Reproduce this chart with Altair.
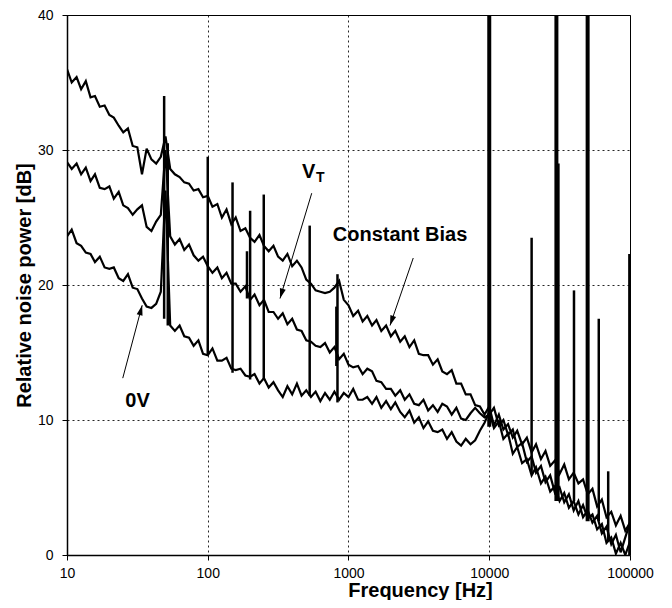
import altair as alt
import pandas as pd

FREQ = [10, 10.8, 11.7, 12.6, 13.6, 14.7, 15.8, 17.1, 18.5, 20.0, 21.5, 23.3, 25.1, 27.1, 29.3,
        31.6, 34.1, 36.8, 39.8, 43.0, 46.4, 50.1, 54.1, 58.4, 63.1, 68.1, 73.6, 79.4, 85.8, 92.6,
        100, 108, 117, 126, 136, 147, 158, 171, 185, 200, 215, 233, 251, 271, 293,
        316, 341, 368, 398, 430, 464, 501, 541, 584, 631, 681, 736, 794, 858, 926,
        1000, 1080, 1170, 1260, 1360, 1470, 1580, 1710, 1850, 2000, 2150, 2330, 2510, 2710, 2930,
        3160, 3410, 3680, 3980, 4300, 4640, 5010, 5410, 5840, 6310, 6810, 7360, 7940, 8580, 9260,
        10000, 10800, 11700, 12600, 13600, 14700, 15800, 17100, 18500, 20000, 21500, 23300, 25100, 27100, 29300,
        31600, 34100, 36800, 39800, 43000, 46400, 50100, 54100, 58400, 63100, 68100, 73600, 79400, 85800, 92600,
        100000]

CONSTANT_BIAS = [36.0, 35.0, 35.4, 34.5, 35.1, 33.9, 34.0, 33.2, 33.3, 32.6, 32.4, 31.8, 31.3, 31.6, 30.3,
                 30.2, 28.2, 30.1, 29.3, 29.0, 29.5, 31.0, 28.6, 28.2, 28.0, 27.6, 27.5, 27.0, 27.1, 26.5,
                 26.6, 25.8, 26.0, 25.0, 25.6, 24.5, 25.0, 24.0, 24.2, 23.5, 23.2, 23.7, 22.9, 22.5, 22.9,
                 22.1, 21.8, 22.3, 21.4, 21.8, 21.3, 20.4, 20.1, 19.6, 19.5, 19.4, 19.5, 19.8, 20.3, 18.9,
                 18.5, 17.7, 18.1, 17.3, 17.7, 17.0, 17.4, 16.6, 17.0, 16.2, 16.6, 15.8, 16.2, 15.4, 15.9,
                 14.9, 14.8, 14.8, 14.1, 14.5, 13.6, 13.4, 13.7, 12.7, 12.7, 11.9, 11.9, 11.1, 11.0, 10.4,
                 11.0, 9.6, 10.4, 9.3, 9.7, 8.7, 9.2, 8.2, 8.7, 7.6, 8.2, 7.1, 7.7, 6.6, 7.0,
                 6.0, 6.7, 5.6, 6.1, 5.3, 5.6, 4.5, 4.9, 3.6, 4.1, 2.8, 3.2, 2.2, 2.9, 1.8,
                 2.4]

VT = [29.1, 28.6, 29.0, 28.2, 28.7, 27.7, 28.2, 27.2, 27.1, 27.3, 26.4, 26.9, 25.9, 25.7, 25.2,
      25.6, 25.9, 24.3, 24.0, 24.7, 25.2, 30.0, 23.6, 23.0, 23.4, 22.6, 23.0, 22.2, 21.8, 22.1,
      21.4, 20.9, 21.3, 20.5, 20.9, 20.1, 20.1, 19.5, 19.9, 18.9, 19.3, 18.5, 18.9, 18.0, 18.0,
      17.5, 17.9, 17.1, 17.5, 16.7, 16.6, 15.9, 15.8, 15.5, 15.4, 15.7, 15.0, 15.4, 14.5, 14.9,
      14.1, 13.9, 14.0, 13.4, 13.8, 13.6, 12.9, 12.8, 12.3, 12.3, 11.8, 12.2, 11.5, 11.9, 11.2,
      11.1, 11.5, 10.7, 11.1, 10.6, 11.2, 11.0, 10.4, 10.9, 10.1, 10.0, 10.5, 10.9, 10.5, 10.2,
      10.4, 10.9, 9.6, 10.0, 8.9, 9.3, 8.0, 8.3, 6.9, 7.3, 6.1, 6.6, 5.4, 5.9, 4.6,
      5.0, 3.9, 4.5, 3.3, 4.0, 2.8, 3.3, 2.4, 2.9, 1.6, 2.1, 0.8, 1.5, 0.2, 1.3,
      2.4]

ZERO_V = [23.6, 24.1, 23.1, 22.9, 22.4, 22.3, 21.7, 22.1, 21.3, 21.2, 21.3, 20.5, 20.3, 20.8, 19.8,
          19.7, 19.0, 18.4, 18.3, 18.6, 19.5, 27.0, 17.0, 16.6, 17.0, 16.2, 16.1, 15.5, 15.9, 14.9,
          14.8, 15.3, 14.4, 14.4, 14.6, 13.8, 13.7, 13.8, 13.3, 13.2, 13.4, 12.7, 13.1, 12.4, 12.8,
          12.2, 11.7, 12.5, 11.9, 12.7, 11.8, 12.2, 11.7, 12.1, 11.4, 12.0, 11.5, 12.1, 11.5, 12.0,
          11.7, 12.3, 11.5, 11.5, 11.7, 11.2, 11.7, 10.9, 11.4, 10.8, 11.3, 10.6, 10.2, 10.7, 9.8,
          10.2, 9.4, 9.9, 9.2, 9.1, 9.3, 8.6, 9.1, 8.4, 8.1, 8.6, 8.2, 8.5, 9.2, 9.8,
          10.6, 9.4, 9.9, 8.6, 9.0, 7.5, 8.0, 6.8, 7.1, 5.9, 6.5, 5.3, 5.8, 4.7, 5.1,
          4.0, 4.6, 3.5, 4.0, 3.0, 3.7, 2.7, 3.0, 1.9, 2.3, 0.9, 1.3, 0.1, 0.9, 0.0,
          1.0]

SERIES = ["Constant Bias", "VT", "0V"]

# narrow interference spikes (frequency, foot, peak)
SPIKE_FREQ = [49, 52, 100, 150, 190, 200, 250, 530, 820, 835, 20000, 31000, 40000, 60000, 70000, 99000]
SPIKE_LOW = [17.5, 17.0, 14.8, 13.5, 19.0, 13.0, 13.0, 11.8, 14.0, 11.3, 6.0, 4.0, 4.0, 2.5, 1.0, 0.0]
SPIKE_HIGH = [34.0, 30.5, 29.5, 27.6, 22.5, 25.5, 26.7, 24.4, 18.4, 20.8, 23.5, 29.0, 19.6, 17.5, 6.2, 22.3]

# strong spikes running off the top
BIG_SPIKE_FREQ = [10000, 30000, 50000]
BIG_SPIKE_LOW = [9.5, 4.0, 2.5]
BIG_SPIKE_HIGH = [40, 40, 40]

# annotations (data coordinates)
LABEL_TEXT = ["Constant Bias", "0V"]
LABEL_FREQ = [2323, 31.7]
LABEL_POWER = [23.25, 11.0]

ARROW_FROM_FREQ = [548, 2884, 24.9]
ARROW_FROM_POWER = [26.8, 22.0, 13.1]
ARROW_TO_FREQ = [326, 1972, 34.2]
ARROW_TO_POWER = [19.0, 17.0, 18.5]
ARROW_ANGLE = [196.6, 198.8, 14.8]

rows = []
for name, vals in zip(SERIES, [CONSTANT_BIAS, VT, ZERO_V]):
    for f, v in zip(FREQ, vals):
        rows.append({"freq": f, "power": v, "series": name})
df = pd.DataFrame(rows)

spikes = pd.DataFrame({"freq": SPIKE_FREQ, "power": SPIKE_LOW, "power2": SPIKE_HIGH})
big = pd.DataFrame({"freq": BIG_SPIKE_FREQ, "power": BIG_SPIKE_LOW, "power2": BIG_SPIKE_HIGH})
labels = pd.DataFrame({"freq": LABEL_FREQ, "power": LABEL_POWER, "text": LABEL_TEXT})
arrows = pd.DataFrame({"freq": ARROW_FROM_FREQ, "power": ARROW_FROM_POWER,
                       "freq2": ARROW_TO_FREQ, "power2": ARROW_TO_POWER, "ang": ARROW_ANGLE})
heads = pd.DataFrame({"freq": ARROW_TO_FREQ, "power": ARROW_TO_POWER, "ang": ARROW_ANGLE})
vlab = pd.DataFrame({"freq": [468], "power": [27.9], "text": ["V"]})
tlab = pd.DataFrame({"freq": [588], "power": [27.6], "text": ["T"]})

xs = alt.Scale(type="log", domain=[10, 100000], nice=False)
ys = alt.Scale(domain=[0, 40], nice=False)
x_enc = alt.X("freq:Q", scale=xs, axis=alt.Axis(
    values=[10, 100, 1000, 10000, 100000], format="d", title="Frequency [Hz]",
    tickSize=5, labelPadding=6, titleX=353, titleY=41, titleAlign="center",
    titleBaseline="alphabetic", labelFlush=False))
y_enc = alt.Y("power:Q", scale=ys, axis=alt.Axis(
    values=[0, 10, 20, 30, 40], title="Relative noise power [dB]",
    tickSize=5, labelPadding=9, titleAngle=270, titleX=-37, titleY=270,
    titleAlign="center", titleBaseline="alphabetic"))

lines = alt.Chart(df).mark_line(color="black", strokeWidth=2.2, clip=True,
                                strokeJoin="miter", strokeMiterLimit=3).encode(
    x=x_enc, y=y_enc, detail="series:N", order="freq:Q")

spk = alt.Chart(spikes).mark_rule(color="black", strokeWidth=2.5).encode(
    x=x_enc, y=y_enc, y2="power2:Q")
bigspk = alt.Chart(big).mark_rule(color="black", strokeWidth=4).encode(
    x=x_enc, y=y_enc, y2="power2:Q")

shafts = alt.Chart(arrows).mark_rule(color="black", strokeWidth=1).encode(
    x=x_enc, y=y_enc, x2="freq2:Q", y2="power2:Q")
arrowheads = alt.Chart(heads).mark_point(
    shape="M0,0L-0.3,1L0.3,1Z", filled=True, color="black", opacity=1, size=400, strokeWidth=0
).encode(x=x_enc, y=y_enc, angle=alt.Angle("ang:Q", scale=None))

txt = alt.Chart(labels).mark_text(
    font="Liberation Sans", fontSize=20, fontWeight="bold", color="black",
    align="center", baseline="alphabetic").encode(x=x_enc, y=y_enc, text="text:N")
vtxt = alt.Chart(vlab).mark_text(
    font="Liberation Sans", fontSize=20, fontWeight="bold", color="black",
    align="left", baseline="alphabetic").encode(x=x_enc, y=y_enc, text="text:N")
ttxt = alt.Chart(tlab).mark_text(
    font="Liberation Sans", fontSize=14, fontWeight="bold", color="black",
    align="left", baseline="alphabetic").encode(x=x_enc, y=y_enc, text="text:N")

chart = alt.layer(lines, spk, bigspk, shafts, arrowheads, txt, vtxt, ttxt).properties(
    width=563, height=540,
    autosize=alt.AutoSizeParams(type="none"),
    padding={"left": 59, "top": 7, "right": 26, "bottom": 45},
).configure_view(stroke="black", strokeWidth=1).configure_axis(
    grid=True, gridColor="black", gridDash=[2, 3], gridWidth=1, gridOpacity=0.85,
    domainColor="black", domainWidth=1.5, tickColor="black", tickWidth=1,
    labelColor="black", labelFont="Liberation Sans", labelFontSize=14,
    titleFont="Liberation Sans", titleFontSize=20, titleFontWeight="bold", titleColor="black",
)

chart.save("out.html", embed_options={"renderer": "svg", "actions": False})
